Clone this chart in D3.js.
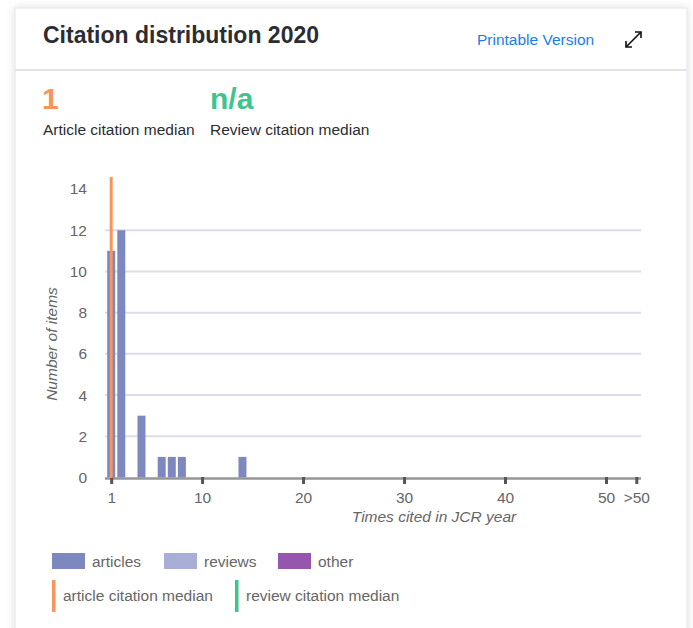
<!DOCTYPE html>
<html><head><meta charset="utf-8">
<script src="https://cdn.jsdelivr.net/npm/d3@7"></script>
<style>
html,body{margin:0;padding:0;background:#fff;}
svg{display:block;font-family:"Liberation Sans",Arial,Helvetica,sans-serif;}
</style></head>
<body>
<svg id="c" width="693" height="628"></svg>
<script>
// ---- data ----
const citedCounts = [1, 2, 4, 6, 7, 8, 14];
const articleItems = [11, 12, 3, 1, 1, 1, 1];
const xTickValues = [1, 10, 20, 30, 40, 50, 53];
const xTickLabels = ["1", "10", "20", "30", "40", "50", ">50"];
const yTickValues = [0, 2, 4, 6, 8, 10, 12, 14];
const articleMedian = 1;
const articleMedianText = "1";
const reviewMedianText = "n/a";
const legendBars = ["articles", "reviews", "other"];
const legendLines = ["article citation median", "review citation median"];

const colors = {articles:"#7d88bf", reviews:"#a9aed6", other:"#9556ad", aMed:"#f7955d", rMed:"#3ec48e"};
const FS = 15.5;

const svg = d3.select("#c");
const defs = svg.append("defs");
const f = defs.append("filter").attr("id","sh").attr("x","-10%").attr("y","-10%").attr("width","120%").attr("height","120%");
f.append("feDropShadow").attr("dx",0).attr("dy",0).attr("stdDeviation",5).attr("flood-color","#000").attr("flood-opacity",0.13);

// card
svg.append("rect").attr("x",15).attr("y",8).attr("width",672).attr("height",640)
  .attr("fill","#fff").attr("stroke","#e3e3ea").attr("stroke-width",1).attr("filter","url(#sh)");
svg.append("line").attr("x1",15).attr("x2",687).attr("y1",70).attr("y2",70).attr("stroke","#e2e2e8").attr("stroke-width",2);

// header
svg.append("text").attr("x",43).attr("y",43).attr("font-size",23).attr("font-weight","bold").attr("fill","#2b2d33").text("Citation distribution 2020");
svg.append("text").attr("x",477).attr("y",45).attr("font-size",FS).attr("fill","#1a7ee8").text("Printable Version");
// expand icon
const ic = svg.append("g").attr("stroke","#111").attr("stroke-width",1.6).attr("fill","none");
ic.append("line").attr("x1",626).attr("y1",47).attr("x2",641).attr("y2",32);
ic.append("polyline").attr("points","626,41 626,47 632,47");
ic.append("polyline").attr("points","635,32 641,32 641,38");

// medians
svg.append("text").attr("x",42).attr("y",109).attr("font-size",30).attr("font-weight","bold").attr("fill",colors.aMed).text(articleMedianText);
svg.append("text").attr("x",210).attr("y",109).attr("font-size",30).attr("font-weight","bold").attr("fill",colors.rMed).text(reviewMedianText);
svg.append("text").attr("x",43).attr("y",135).attr("font-size",FS).attr("fill","#2b2d33").text("Article citation median");
svg.append("text").attr("x",210).attr("y",135).attr("font-size",FS).attr("fill","#2b2d33").text("Review citation median");

// scales
const x = d3.scaleLinear().domain([0, 53]).range([101.1, 636.3]);
const y = d3.scaleLinear().domain([0, 14]).range([477.5, 189]);
const barW = 8;

// gridlines
svg.append("g").selectAll("line").data(yTickValues.filter(v => v > 0 && v < 14)).join("line")
  .attr("x1",105).attr("x2",641).attr("y1",d=>y(d)).attr("y2",d=>y(d))
  .attr("stroke","#dcdcea").attr("stroke-width",2);

// y axis labels
const yAxis = d3.axisLeft(y).tickValues(yTickValues).tickSize(0).tickPadding(0);
const yg = svg.append("g").attr("transform","translate(87,0)").call(yAxis);
yg.select(".domain").remove();
yg.selectAll("text").attr("font-size",FS).attr("fill","#666").attr("font-family","Liberation Sans, Arial, sans-serif");

// bars
svg.append("g").selectAll("rect").data(citedCounts.map((c,i)=>({c, v:articleItems[i]}))).join("rect")
  .attr("x",d=>x(d.c)-barW/2).attr("width",barW)
  .attr("y",d=>y(d.v)).attr("height",d=>y(0)-y(d.v))
  .attr("fill",colors.articles);

// x axis
svg.append("line").attr("x1",105).attr("x2",641).attr("y1",478.5).attr("y2",478.5).attr("stroke","#969696").attr("stroke-width",2.5);
const xAxis = d3.axisBottom(x).tickValues(xTickValues).tickFormat((d,i)=>xTickLabels[i]).tickSize(7).tickPadding(8);
const xg = svg.append("g").attr("transform","translate(0,477)").call(xAxis);
xg.select(".domain").remove();
xg.selectAll(".tick line").attr("stroke","#555").attr("stroke-width",3);
xg.selectAll("text").attr("font-size",FS).attr("fill","#666").attr("font-family","Liberation Sans, Arial, sans-serif");

// median line
svg.append("line").attr("x1",x(articleMedian)).attr("x2",x(articleMedian)).attr("y1",177).attr("y2",478)
  .attr("stroke",colors.aMed).attr("stroke-width",3);

// axis titles
svg.append("text").attr("x",434).attr("y",522).attr("text-anchor","middle").attr("font-size",FS).attr("font-style","italic").attr("fill","#666").text("Times cited in JCR year");
svg.append("text").attr("transform","translate(57,344) rotate(-90)").attr("text-anchor","middle").attr("font-size",FS).attr("font-style","italic").attr("fill","#666").text("Number of items");

// legend
const barLegX = [52, 164, 278];
const barColors = [colors.articles, colors.reviews, colors.other];
const lg = svg.append("g");
legendBars.forEach((name,i)=>{
  lg.append("rect").attr("x",barLegX[i]).attr("y",553).attr("width",33).attr("height",16).attr("fill",barColors[i]);
  lg.append("text").attr("x",barLegX[i]+40).attr("y",566.5).attr("font-size",FS).attr("fill","#666").text(name);
});
const lineLegX = [52, 235];
const lineColors = [colors.aMed, colors.rMed];
legendLines.forEach((name,i)=>{
  lg.append("rect").attr("x",lineLegX[i]).attr("y",580).attr("width",3.5).attr("height",32).attr("fill",lineColors[i]);
  lg.append("text").attr("x",lineLegX[i]+11).attr("y",601).attr("font-size",FS).attr("fill","#666").text(name);
});
</script>
</body></html>
